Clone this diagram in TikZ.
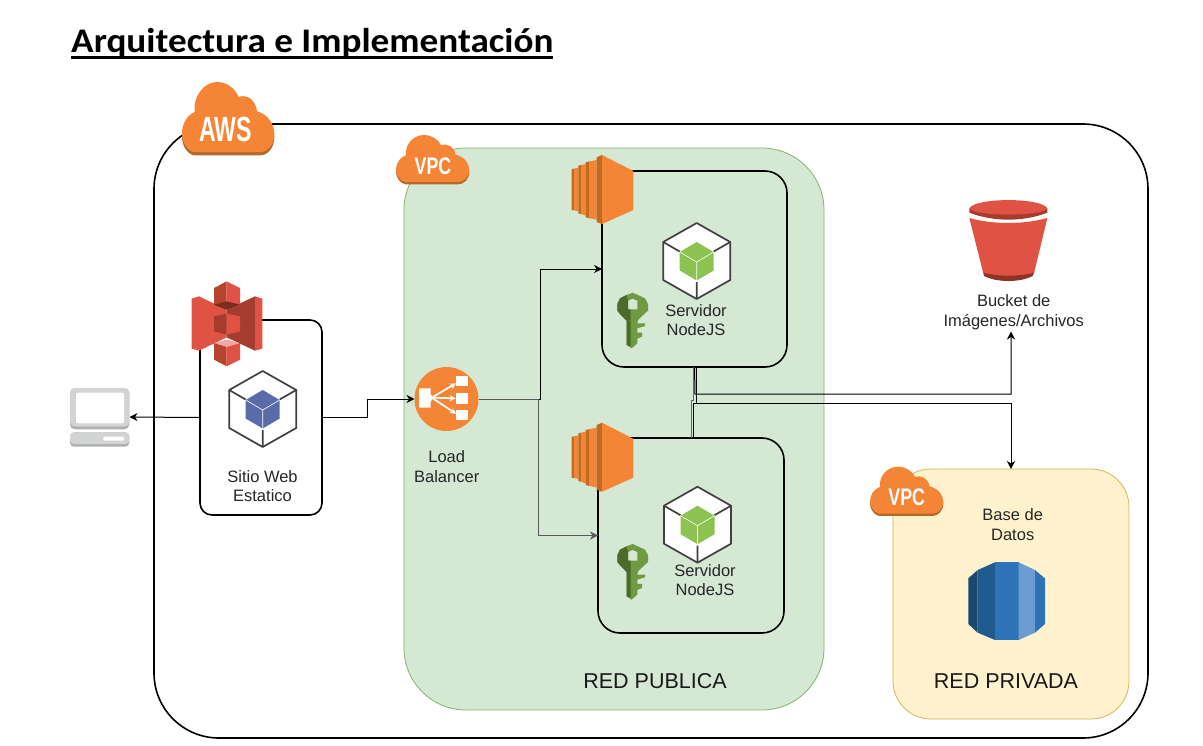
\documentclass[tikz,border=0pt]{standalone}
\usepackage{fontspec}
\setmainfont{Liberation Sans}
\newfontfamily\titlefont{Carlito}
\usetikzlibrary{arrows.meta,calc}
\definecolor{awsorange}{HTML}{F58536}
\definecolor{awsorangedk}{HTML}{B5682C}
\definecolor{ec2dk}{HTML}{C06A22}
\definecolor{s3red}{HTML}{E05243}
\definecolor{s3dk}{HTML}{A63C2E}
\definecolor{s3mid}{HTML}{B8432F}
\definecolor{s3dkr}{HTML}{7F2C20}
\definecolor{s3lt}{HTML}{F2A79E}
\definecolor{keyg}{HTML}{6F9A41}
\definecolor{keyd}{HTML}{4B6A2B}
\definecolor{vpcfill}{HTML}{D5E8D4}
\definecolor{vpcline}{HTML}{82B366}
\definecolor{privfill}{HTML}{FFF2CC}
\definecolor{privline}{HTML}{D6B656}
\definecolor{cubeblue}{HTML}{5A6BAA}
\definecolor{cubegreen}{HTML}{8CC351}
\definecolor{lapg}{HTML}{D2D3D3}
\definecolor{lapd}{HTML}{AEB0B0}
\definecolor{rdsa}{HTML}{1A476F}
\definecolor{rdsb}{HTML}{205B8F}
\definecolor{rdsc}{HTML}{2E73B8}
\definecolor{rdsd}{HTML}{6B9BD1}
\tikzset{
  framebox/.style={draw=black,line width=1.6pt,rounded corners=#1,inner sep=0pt,outer sep=0pt},
  conn/.style={draw=black,line width=1pt,-{Stealth[length=8pt,width=8pt,inset=2.5pt]}},
  connb/.style={conn,draw=black!65},
  lbl/.style={inner sep=0pt,outer sep=0pt,align=center,font=\fontsize{16.5}{19.5}\selectfont,text=black!85},
  big/.style={inner sep=0pt,outer sep=0pt,font=\fontsize{21.5}{25}\selectfont,text=black!90},
  cloudtext/.style={inner sep=0pt,text=white,font=\bfseries},
  pics/cloud/.style={code={
    \fill[awsorangedk,shift={(0,10)}] (35,210) .. controls (15,205) and (0,180) .. (0,155)
      .. controls (0,125) and (15,100) .. (38,90) -- (225,88)
      .. controls (255,95) and (277,125) .. (277,155)
      .. controls (277,190) and (255,210) .. (235,210) -- cycle;
    \fill[awsorange] (35,210) .. controls (15,205) and (0,180) .. (0,155)
      .. controls (0,125) and (15,100) .. (38,90)
      .. controls (32,45) and (65,0) .. (105,0)
      .. controls (135,0) and (160,20) .. (170,45)
      .. controls (195,35) and (222,55) .. (225,88)
      .. controls (255,95) and (277,125) .. (277,155)
      .. controls (277,190) and (255,210) .. (235,210) -- cycle;
  }},
  pics/hexbox/.style={code={
    \draw[fill=white,draw=black!75,line width=1.7pt,line join=round] (0,-38)--(33.5,-19)--(33.5,19)--(0,38)--(-33.5,19)--(-33.5,-19)--cycle;
    \draw[draw=black!75,line width=1.7pt] (-33.5,-19)--(-17,-9.5) (33.5,-19)--(17,-9.5) (0,38)--(0,21);
    \fill[#1] (0,-19)--(17,-9)--(17,9.5)--(0,19.5)--(-17,9.5)--(-17,-9)--cycle;
    \draw[white,line width=.6pt] (-17,-9)--(0,1)--(17,-9) (0,1)--(0,19.5);
  }},
  pics/ec2/.style={code={
    \fill[ec2dk] (515,58)--(522,56)--(522,181)--(515,180)--cycle;
    \fill[awsorange] (522,56)--(535,53)--(535,184)--(522,181)--cycle;
    \fill[ec2dk] (535,47)--(543,45)--(543,192)--(535,190)--cycle;
    \fill[awsorange] (543,45)--(557,42)--(557,197)--(543,192)--cycle;
    \fill[ec2dk] (557,37)--(569,34)--(569,205)--(557,202)--cycle;
    \fill[awsorange] (569,34)--(590,30)--(590,209)--(569,205)--cycle;
    \fill[ec2dk] (590,22)--(606,15)--(606,222)--(590,216)--cycle;
    \fill[awsorange] (606,15)--(700,63)--(700,180)--(606,222)--cycle;
  }},
  pics/keyicon/.style={code={
    \fill[keyg,even odd rule] (698,428)--(720,438)--(735,445)--(744,462)--(744,482)--(735,490)--(714,510)--(712,520)--(735,520)--(735,528)--(712,535)--(712,548)--(726,548)--(726,560)--(712,566)--(712,580)--(695,595)--(680,585)--(680,512)--(660,492)--(652,482)--(652,462)--(660,445)--(680,435)--cycle
      (684,452)--(698,446)--(712,452)--(712,478)--(684,478)--cycle;
    \fill[keyd,even odd rule] (652,462)--(660,445)--(680,435)--(684,452)--(684,478)--(692,478)--(692,512)--(680,512)--(660,492)--(652,482)--cycle;
    \fill[keyd] (680,512)--(692,512)--(692,590)--(680,585)--cycle;
  }}
}
\begin{document}
\begin{tikzpicture}[x=1pt,y=-1pt]
\useasboundingbox (0,0) rectangle (1203,745);
% Title
\node[anchor=base west,inner sep=0pt,xscale=1.078,font=\titlefont\bfseries\fontsize{34.5}{36}\selectfont] (title) at (71,52) {Arquitectura e Implementación};
\fill (71,56) rectangle (553,59.2);
% Containers
\node[framebox=65pt,minimum width=994pt,minimum height=614pt] (aws) at (651,431) {};
\node[draw=vpcline,fill=vpcfill,rounded corners=62pt,line width=.8pt,inner sep=0pt,outer sep=0pt,minimum width=420pt,minimum height=562pt] (vpc) at (614,429) {};
\node[draw=privline,fill=privfill,rounded corners=38pt,line width=.8pt,inner sep=0pt,outer sep=0pt,minimum width=236pt,minimum height=250pt] (priv) at (1011,594) {};
\node[framebox=12pt,fill=white,minimum width=122pt,minimum height=195pt] (s3box) at (261,417.5) {};
\node[framebox=22pt,fill=vpcfill,minimum width=185pt,minimum height=196pt] (serverA) at (694.5,269) {};
\node[framebox=22pt,fill=vpcfill,minimum width=186pt,minimum height=195pt] (serverB) at (691,535.5) {};
% Nodes without drawing
\node[inner sep=0pt,outer sep=0pt,minimum width=60pt,minimum height=58pt] (laptop) at (99.5,417) {};
\node[circle,fill=awsorange,inner sep=0pt,outer sep=0pt,minimum size=64pt] (lb) at (446.5,399) {};
\node[lbl] (bucket) at (1013.7,312.3) {Bucket de\\Imágenes/Archivos};
% Routing points
\coordinate (jA) at (367,399);
\coordinate (jB) at (367,417.5);
\coordinate (hA) at (540,399);
\coordinate (hB) at (538,399);
\coordinate (jC) at (695,394);
\coordinate (jD) at (696.7,403);
\coordinate (bucketIn) at (1011,331.5);
% Connectors
\draw[conn] (s3box.west) -- (laptop.east);
\draw[conn] (s3box.east) -- (jB) -- (jA) -- (lb.west);
\draw[conn] (lb.east) -- (hA) -- (hA |- serverA.west) -- (serverA.west);
\draw[connb] (lb.east) -- (hB) -- (hB |- serverB.west) -- (serverB.west);
\draw[line width=1pt,draw=black!60] (serverB.north) -- ($(serverB.north)+(0,-38)$) -- ++(2,0) -- ($(serverA.south)+(-1.5,0)$);
\draw[line width=1pt] ($(serverB.north)+(2.7,0)$) -- ($(serverB.north)+(2.7,-35)$) -- (jD);
\draw[conn] (jD |- serverA.south) -- (jD) -- (jD -| priv.north) -- (priv.north);
\draw[conn] (serverA.south) -- (jC) -- (jC -| bucketIn) -- (bucketIn);
% Clouds
\pic[scale=1/3] at (182,82) {cloud};
\pic[xscale=.2646,yscale=.224] at (396,135) {cloud};
\pic[xscale=.2646,yscale=.224] at (870,466.7) {cloud};
\node[cloudtext,xscale=.66,font=\bfseries\fontsize{35}{35}\selectfont] (awslabel) at (225.5,129) {AWS};
\node[cloudtext,xscale=.74,font=\bfseries\fontsize{24}{24}\selectfont] (vpcA) at (433,166.5) {VPC};
\node[cloudtext,xscale=.74,font=\bfseries\fontsize{24}{24}\selectfont] (vpcB) at (906.7,497.5) {VPC};
% S3 icon
\begin{scope}[shift={(185,278)},scale=1/3]
  \fill[s3red] (20,62)--(42,55)--(125,95)--(125,178)--(42,218)--(20,212)--cycle;
  \fill[s3dk] (125,95)--(210,55)--(210,218)--(125,178)--cycle;
  \fill[s3red] (210,55)--(232,62)--(232,212)--(210,218)--cycle;
  \fill[s3mid] (87,30)--(125,10)--(125,95)--(87,80)--cycle;
  \fill[s3red] (125,10)--(165,30)--(165,80)--(125,95)--cycle;
  \fill[s3dkr] (87,80)--(125,70)--(165,80)--(125,95)--cycle;
  \fill[s3dk] (87,115)--(125,107)--(125,170)--(87,160)--cycle;
  \fill[s3red] (125,107)--(165,115)--(165,160)--(125,170)--cycle;
  \fill[s3lt] (87,195)--(125,185)--(165,195)--(125,207)--cycle;
  \fill[s3mid] (87,195)--(125,207)--(125,265)--(87,245)--cycle;
  \fill[s3red] (165,195)--(125,207)--(125,265)--(165,245)--cycle;
\end{scope}
% Hex boxes
\pic at (262.7,409) {hexbox=cubeblue};
\pic at (696.7,261) {hexbox=cubegreen};
\pic at (697.5,524.7) {hexbox=cubegreen};
% EC2
\pic[shift={(400,150)},scale=1/3] {ec2};
\pic[shift={(400,417.7)},scale=1/3] {ec2};
% Keys
\pic[shift={(400,150)},scale=1/3] {keyicon};
\pic[shift={(400,401.3)},scale=1/3] {keyicon};
% Laptop
\begin{scope}[shift={(50,270)},scale=1/3]
  \fill[lapd,rounded corners=5pt] (60,354) rectangle (238,478);
  \fill[lapg,rounded corners=5pt] (60,354) rectangle (238,470);
  \fill[white,rounded corners=2pt] (78,368) rectangle (222,460);
  \fill[lapd,rounded corners=4pt] (60,487) rectangle (238,530);
  \fill[lapg,rounded corners=4pt] (60,487) rectangle (238,522);
  \fill[white,rounded corners=1pt] (160,500) rectangle (222,512);
\end{scope}
% LB icon
\begin{scope}[shift={(400,355)},scale=1/3]
  \fill[white] (57,100)--(92,100)--(92,118)--(100,128)--(92,140)--(92,158)--(57,158)--cycle;
  \fill[white] (168,62) rectangle (203,92);
  \fill[white] (168,115) rectangle (203,147);
  \fill[white] (168,165) rectangle (203,195);
  \draw[white,line width=1.7pt,-{Stealth[length=6pt,width=6pt]}] (95,128)--(168,85);
  \draw[white,line width=1.7pt,-{Stealth[length=6pt,width=6pt]}] (95,128)--(167,130);
  \draw[white,line width=1.7pt,-{Stealth[length=6pt,width=6pt]}] (95,128)--(168,176);
\end{scope}
% Bucket icon
\begin{scope}[shift={(860,190)},scale=1/3]
  \fill[s3red] (328,84) .. controls (400,104) and (490,104) .. (562,84) -- (522,250) .. controls (480,262) and (410,262) .. (370,250) -- cycle;
  \fill[s3dk!85!black] (370,248) .. controls (410,260) and (480,260) .. (522,248) -- (518,258) .. controls (480,278) and (410,278) .. (372,258) -- cycle;
  \fill[s3dk] (328,55) -- (562,55) -- (562,68) .. controls (490,96) and (400,96) .. (328,68) -- cycle;
  \fill[s3red] (328,55) .. controls (345,22) and (545,22) .. (562,55) .. controls (545,80) and (345,80) .. (328,55) -- cycle;
\end{scope}
% RDS icon
\begin{scope}[shift={(860,450)},scale=1/3]
  \fill[rdsa] (325,385)--(353,360)--(353,548)--(325,522)--cycle;
  \fill[rdsb] (353,360)--(405,337)--(405,570)--(353,548)--cycle;
  \fill[rdsc] (405,337)--(476,337)--(476,570)--(405,570)--cycle;
  \fill[rdsd] (476,337)--(525,360)--(525,548)--(476,570)--cycle;
  \fill[rdsc] (525,360)--(555,385)--(555,522)--(525,548)--cycle;
\end{scope}
% Labels
\node[lbl] (sitio) at (262.5,486) {Sitio Web\\Estatico};
\node[lbl] (lblb) at (446.7,466.7) {Load\\Balancer};
\node[lbl] (srvA) at (696,320.3) {Servidor\\NodeJS};
\node[lbl] (srvB) at (705,580.3) {Servidor\\NodeJS};
\node[lbl] (db) at (1012.7,524.5) {Base de\\Datos};
\node[big] (pub) at (655,681) {RED PUBLICA};
\node[big] (prv) at (1006,681.5) {RED PRIVADA};
\end{tikzpicture}
\end{document}
